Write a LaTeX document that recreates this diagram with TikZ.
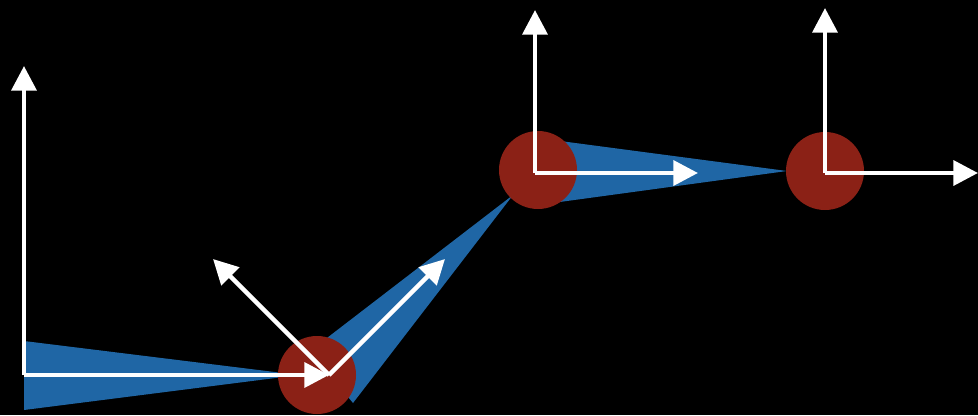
\documentclass[tikz,border=0pt]{standalone}
\usepackage[HTML]{xcolor}
\usetikzlibrary{positioning, arrows.meta}

\definecolor{linkblue}{HTML}{1F66A5}
\definecolor{jointred}{HTML}{8B2116}

\tikzset{
  joint/.style={circle, fill=jointred, inner sep=0pt, minimum size=2.34cm},
  link/.style={fill=linkblue},
  axis/.style={white, line width=3.9pt, -{Triangle[width=21pt,length=21pt]}}
}

\begin{document}
\begin{tikzpicture}[x=0.03cm, y=-0.03cm]
% background
\fill[black] (0,0) rectangle (978,415);
\useasboundingbox (0,0) rectangle (978,415);

% links
\fill[link] (24,341) -- (299,375) -- (24,410) -- cycle;
\fill[link] (310,351) -- (513,195) -- (353,403) -- cycle;
\fill[link] (545,139) -- (787,171) -- (545,204) -- cycle;

% joints
\node[joint] (J1) at (317,375) {};
\node[joint] (J2) at (538,170) {};
\node[joint] (J3) at (825,171) {};

% frame origins and axis tips
\coordinate (O0) at (24,375);
\coordinate (X0) at (329,375);
\coordinate (Y0) at (24,66);
\coordinate (O1) at (329,375);
\coordinate (X1) at (445,259);
\coordinate (Y1) at (213,259);
\coordinate (O2) at (535,173);
\coordinate (X2) at (698,173);
\coordinate (Y2) at (535,10);
\coordinate (O3) at (825,173);
\coordinate (X3) at (978,173);
\coordinate (Y3) at (825,8);

% arrows
\draw[axis] (O0) -- (X0);
\draw[axis] (O0) -- (Y0);
\draw[axis] (O1) -- (X1);
\draw[axis] (O1) -- (Y1);
\draw[axis] (O2) -- (X2);
\draw[axis] (O2) -- (Y2);
\draw[axis] (O3) -- (X3);
\draw[axis] (O3) -- (Y3);
\end{tikzpicture}
\end{document}
